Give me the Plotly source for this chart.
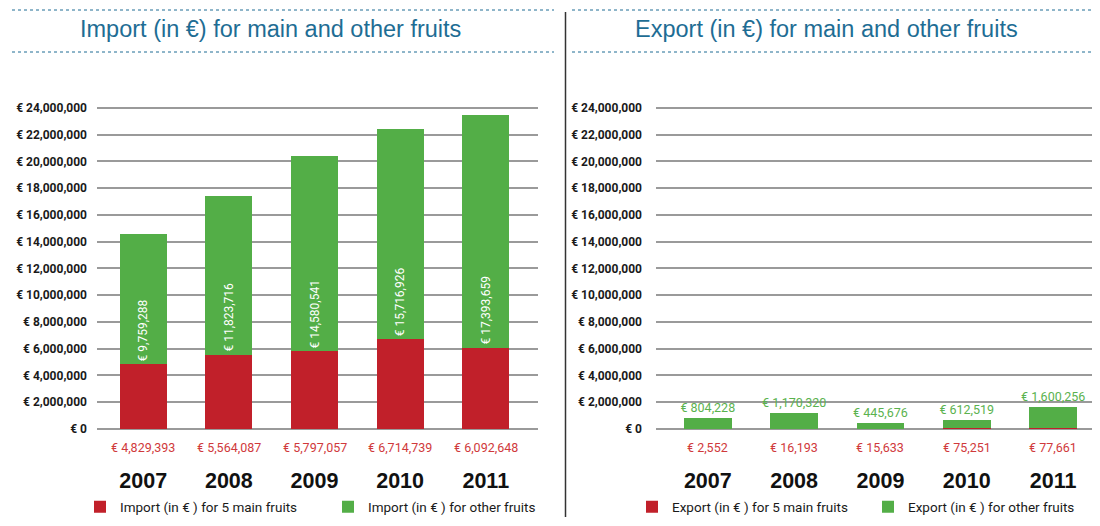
import plotly.graph_objects as go

years = ["2007", "2008", "2009", "2010", "2011"]
import_main = [4829393, 5564087, 5797057, 6714739, 6092648]
import_other = [9759288, 11823716, 14580541, 15716926, 17393659]
export_main = [2552, 16193, 15633, 75251, 77661]
export_other = [804228, 1170320, 445676, 612519, 1600256]
tick_vals = [0, 2e6, 4e6, 6e6, 8e6, 10e6, 12e6, 14e6, 16e6, 18e6, 20e6, 22e6, 24e6]

# page body has an 8px margin: the figure sits at (8, 8)
OFF = 8
W, H = 1100 - OFF, 526 - OFF
RED = "#C1202A"
GREEN = "#53AE47"
RED_TXT = "#D0393B"
GREEN_TXT = "#5AB24E"
TITLE_C = "#1E6D94"
NARROW = "Roboto, sans-serif"


def eur(v):
    return "€ " + f"{v:,}"


def px(x):
    return (x - OFF) / W


def py(y):
    return 1 - (y - OFF) / H


fig = go.Figure()

fig.add_trace(go.Bar(x=years, y=import_main, name="Import (in € ) for 5 main fruits",
                     marker=dict(color=RED, line=dict(width=0)), width=0.55,
                     xaxis="x", yaxis="y", legend="legend", hoverinfo="skip"))
fig.add_trace(go.Bar(x=years, y=import_other, name="Import (in € ) for other fruits",
                     marker=dict(color=GREEN, line=dict(width=0)), width=0.55,
                     text=[eur(v) for v in import_other], textposition="inside",
                     insidetextanchor="start", textangle=-90, constraintext="none",
                     textfont=dict(family=NARROW, size=12, color="white"),
                     xaxis="x", yaxis="y", legend="legend", hoverinfo="skip"))
fig.add_trace(go.Bar(x=years, y=export_main, name="Export (in € ) for 5 main fruits",
                     marker=dict(color=RED, line=dict(width=0)), width=0.55,
                     xaxis="x2", yaxis="y2", legend="legend2", hoverinfo="skip"))
fig.add_trace(go.Bar(x=years, y=export_other, name="Export (in € ) for other fruits",
                     marker=dict(color=GREEN, line=dict(width=0)), width=0.55,
                     text=[eur(v) for v in export_other], textposition="outside",
                     textangle=0, cliponaxis=False, constraintext="none",
                     textfont=dict(family=NARROW, size=12.5, color=GREEN_TXT),
                     xaxis="x2", yaxis="y2", legend="legend2", hoverinfo="skip"))

annotations = []
for i in range(len(years)):
    annotations.append(dict(x=i, y=0, xref="x", yref="y", text=eur(import_main[i]),
                            showarrow=False, yanchor="top", yshift=-9,
                            font=dict(family=NARROW, size=12.5, color=RED_TXT)))
    annotations.append(dict(x=i, y=0, xref="x2", yref="y2", text=eur(export_main[i]),
                            showarrow=False, yanchor="top", yshift=-9,
                            font=dict(family=NARROW, size=12.5, color=RED_TXT)))

annotations.append(dict(x=px(270), y=py(29), xref="paper", yref="paper",
                        text="Import (in €) for main and other fruits", showarrow=False,
                        xanchor="center", yanchor="middle",
                        font=dict(family="Liberation Sans, Arial, sans-serif", size=23.5, color=TITLE_C)))
annotations.append(dict(x=px(826), y=py(29), xref="paper", yref="paper",
                        text="Export (in €) for main and other fruits", showarrow=False,
                        xanchor="center", yanchor="middle",
                        font=dict(family="Liberation Sans, Arial, sans-serif", size=23.5, color=TITLE_C)))

shapes = []
for yy in (10, 52):
    shapes.append(dict(type="line", xref="paper", yref="paper", x0=px(12), x1=px(554),
                       y0=py(yy), y1=py(yy), line=dict(color=TITLE_C, width=1, dash="dot")))
    shapes.append(dict(type="line", xref="paper", yref="paper", x0=px(572), x1=px(1098),
                       y0=py(yy), y1=py(yy), line=dict(color=TITLE_C, width=1, dash="dot")))
shapes.append(dict(type="line", xref="paper", yref="paper", x0=px(565.5), x1=px(565.5),
                   y0=py(12), y1=py(517), line=dict(color="#333333", width=1.5)))

ymax = 24.3e6
ydom = [py(429), py(429 - 24.3 * 13.375)]

yaxis_common = dict(range=[0, ymax], tickvals=tick_vals,
                    ticktext=[eur(int(v)) for v in tick_vals],
                    showgrid=True, gridcolor="#9A9A9A", gridwidth=2,
                    zeroline=True, zerolinecolor="#9A9A9A", zerolinewidth=2,
                    showline=False, ticks="", fixedrange=True, automargin=False,
                    tickfont=dict(family=NARROW, size=12, color="#1A1A1A", weight="bold"),
                    domain=ydom)
xaxis_common = dict(type="category", showgrid=False, zeroline=False, showline=False,
                    ticks="", ticklabelstandoff=36, fixedrange=True, automargin=False,
                    tickfont=dict(family="Liberation Sans, Arial, sans-serif", size=21.5,
                                  color="#111111", weight="bold"))

fig.update_layout(
    width=W, height=H,
    margin=dict(l=0, r=0, t=0, b=0, autoexpand=False),
    paper_bgcolor="white", plot_bgcolor="white",
    barmode="stack",
    showlegend=True,
    xaxis=dict(xaxis_common, domain=[px(97), px(538)], range=[-0.54, 4.61], anchor="y"),
    yaxis=dict(yaxis_common, anchor="x", ticklabelstandoff=9),
    xaxis2=dict(xaxis_common, domain=[px(656), px(1098)], range=[-0.6, 4.52], anchor="y2"),
    yaxis2=dict(yaxis_common, anchor="x2", ticklabelstandoff=13),
    legend=dict(orientation="h", x=px(80), y=py(507), xanchor="left", yanchor="middle",
                entrywidth=203, entrywidthmode="pixels", bgcolor="rgba(0,0,0,0)",
                font=dict(family=NARROW, size=13.5, color="#1A1A1A"), traceorder="normal"),
    legend2=dict(orientation="h", x=px(632), y=py(507), xanchor="left", yanchor="middle",
                 entrywidth=191, entrywidthmode="pixels", bgcolor="rgba(0,0,0,0)",
                 font=dict(family=NARROW, size=13.5, color="#1A1A1A"), traceorder="normal"),
    annotations=annotations,
    shapes=shapes,
)

fig.write_html("out.html")
